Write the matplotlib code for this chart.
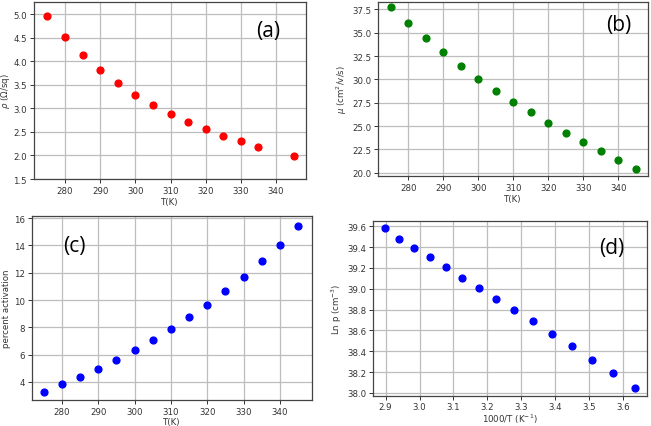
import matplotlib
matplotlib.use("Agg")
import matplotlib.pyplot as plt
import numpy as np

T_a = [275, 280, 285, 290, 295, 300, 305, 310, 315, 320, 325, 330, 335, 345]
rho = [4.97, 4.51, 4.13, 3.81, 3.53, 3.29, 3.08, 2.89, 2.71, 2.56, 2.42, 2.30, 2.18, 1.99]

T = [275, 280, 285, 290, 295, 300, 305, 310, 315, 320, 325, 330, 335, 340, 345]
mu = [37.8, 36.0, 34.45, 32.9, 31.4, 30.05, 28.8, 27.6, 26.45, 25.35, 24.3, 23.3, 22.3, 21.4, 20.4]
act = [3.3, 3.85, 4.4, 4.97, 5.62, 6.32, 7.06, 7.85, 8.72, 9.65, 10.65, 11.68, 12.85, 14.05, 15.45]

invT = [2.899, 2.941, 2.985, 3.030, 3.077, 3.125, 3.175, 3.226, 3.279, 3.333, 3.390, 3.448, 3.509, 3.571, 3.636]
lnp = [39.58, 39.48, 39.39, 39.30, 39.205, 39.105, 39.005, 38.905, 38.80, 38.69, 38.57, 38.45, 38.32, 38.19, 38.045]

W, H = 651, 427
fig = plt.figure(figsize=(W/100, H/100), dpi=100)

def ax_px(l, r, t, b):
    return fig.add_axes([l/W, 1 - b/H, (r-l)/W, (b-t)/H])

def style(ax):
    ax.grid(True, color='#bdbdbd', linewidth=0.9)
    ax.set_axisbelow(True)
    for s in ax.spines.values():
        s.set_color('#444444')
        s.set_linewidth(0.9)
    ax.tick_params(labelsize=6.2, colors='#333333', length=3, width=0.7, pad=2)

lab_kw = dict(fontsize=6.2, color='#333333')
panel_kw = dict(fontsize=15, family='Open Sans', color='black')

ax1 = ax_px(34, 306, 3, 180)
ax1.scatter(T_a, rho, s=24, color='red', zorder=3)
ax1.set_ylim(1.5, 5.26)
ax1.set_xlim(271.2, 348.5)
ax1.set_yticks(np.arange(1.5, 5.01, 0.5))
ax1.set_xticks(range(280, 341, 10))
ax1.set_ylabel(r'$\rho$ (Ω/sq)', labelpad=1, **lab_kw)
ax1.set_xlabel('T(K)', labelpad=1.5, **lab_kw)
style(ax1)
ax1.text(0.86, 0.84, '(a)', transform=ax1.transAxes, ha='center', va='center', **panel_kw)

ax2 = ax_px(378, 648, 3, 177)
ax2.scatter(T, mu, s=24, color='green', zorder=3)
ax2.set_xlim(271.3, 348.5)
ax2.set_ylim(19.64, 38.3)
ax2.set_yticks(np.arange(20, 37.6, 2.5))
ax2.set_xticks(range(280, 341, 10))
ax2.set_ylabel(r'$\mu$ (cm$^2$/v/s)', labelpad=2, **lab_kw)
ax2.set_xlabel('T(K)', labelpad=1.5, **lab_kw)
style(ax2)
ax2.text(0.89, 0.87, '(b)', transform=ax2.transAxes, ha='center', va='center', **panel_kw)

ax3 = ax_px(32, 312, 217, 401)
ax3.scatter(T, act, s=24, color='blue', zorder=3)
ax3.set_xlim(271.8, 348.8)
ax3.set_ylim(2.68, 16.15)
ax3.set_yticks(range(4, 17, 2))
ax3.set_xticks(range(280, 341, 10))
ax3.set_ylabel('percent activation', labelpad=2, **lab_kw)
ax3.set_xlabel('T(K)', labelpad=1, **lab_kw)
style(ax3)
ax3.text(0.15, 0.84, '(c)', transform=ax3.transAxes, ha='center', va='center', **panel_kw)

ax4 = ax_px(373, 647, 222, 397)
ax4.scatter(invT, lnp, s=24, color='blue', zorder=3)
ax4.set_xlim(2.863, 3.67)
ax4.set_ylim(37.97, 39.65)
ax4.set_yticks(np.arange(38.0, 39.61, 0.2))
ax4.set_xticks(np.arange(2.9, 3.61, 0.1))
ax4.set_ylabel(r'Ln p (cm$^{-3}$)', labelpad=2, **lab_kw)
ax4.set_xlabel(r'1000/T (K$^{-1}$)', labelpad=0.5, **lab_kw)
style(ax4)
ax4.tick_params(axis='x', pad=1.5)
ax4.text(0.87, 0.85, '(d)', transform=ax4.transAxes, ha='center', va='center', **panel_kw)

fig.savefig('out.png', dpi=100)
